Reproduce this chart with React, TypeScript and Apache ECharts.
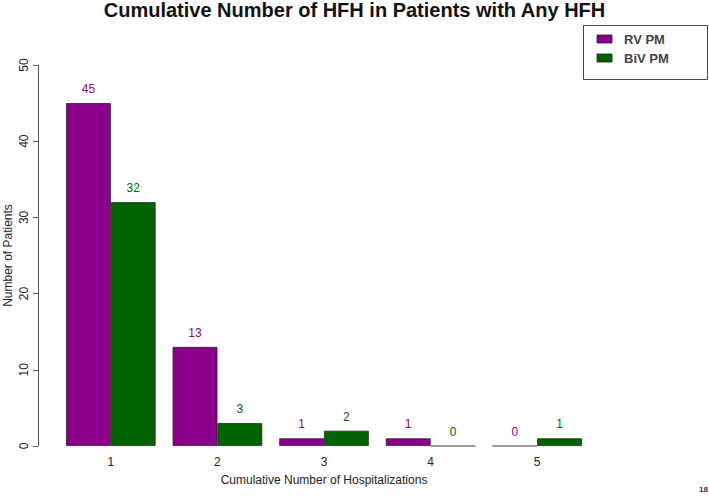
import React, { useEffect, useRef } from "react";
import * as echarts from "echarts";

const categories = ["1", "2", "3", "4", "5"];
const rvValues = [45, 13, 1, 1, 0];
const bivValues = [32, 3, 2, 0, 1];
const yTicks = [0, 10, 20, 30, 40, 50];

const PURPLE = "#8B008B";
const GREEN = "#006400";
const FONT = "'Liberation Sans', Arial, sans-serif";

export default function App() {
  const ref = useRef<HTMLDivElement>(null);
  useEffect(() => {
    if (!ref.current) return;
    const chart = echarts.init(ref.current, undefined, { renderer: "svg" });
    const mkSeries = (name: string, data: number[], color: string) => ({
      name,
      type: "bar",
      data: data.map((v) => ({
        value: v,
        itemStyle:
          v === 0
            ? { color: "transparent", borderColor: "#777", borderWidth: 1 }
            : { color, borderColor: "#222", borderWidth: 0.8 },
      })),
      barGap: "0%",
      barCategoryGap: "16%",
      label: {
        show: true,
        position: "top",
        distance: 8,
        color,
        fontFamily: FONT,
        fontSize: 12,
      },
    });
    chart.setOption({
      animation: false,
      textStyle: { fontFamily: FONT },
      title: {
        text: "Cumulative Number of HFH in Patients with Any HFH",
        left: "center",
        top: 0,
        padding: 0,
        textStyle: { fontFamily: FONT, fontSize: 20, fontWeight: "bold", color: "#111" },
      },
      legend: {
        show: false,
      },
      graphic: [
        {
          type: "rect",
          shape: { x: 583.5, y: 25.5, width: 124, height: 54 },
          style: { fill: "#fff", stroke: "#444", lineWidth: 1 },
        },
        {
          type: "rect",
          shape: { x: 597, y: 35, width: 15, height: 8 },
          style: { fill: PURPLE, stroke: "#222", lineWidth: 0.8 },
        },
        {
          type: "text",
          x: 624,
          y: 39,
          style: { text: "RV PM", fill: "#444", font: `bold 13px ${FONT}`, verticalAlign: "middle" },
        },
        {
          type: "rect",
          shape: { x: 597, y: 54, width: 15, height: 8 },
          style: { fill: GREEN, stroke: "#222", lineWidth: 0.8 },
        },
        {
          type: "text",
          x: 624,
          y: 58,
          style: { text: "BiV PM", fill: "#444", font: `bold 13px ${FONT}`, verticalAlign: "middle" },
        },
        {
          type: "text",
          x: 708,
          y: 493,
          style: { text: "18", fill: "#333", font: `bold 8px ${FONT}`, align: "right", verticalAlign: "bottom" },
        },
      ],
      grid: { left: 57.5, right: 118.5, top: 65, bottom: 50, containLabel: false, outerBoundsMode: "none" },
      xAxis: {
        type: "category",
        data: categories,
        axisLine: { show: false },
        axisTick: { show: false },
        axisLabel: { color: "#222", fontSize: 12, margin: 10, fontFamily: FONT },
        name: "Cumulative Number of Hospitalizations",
        nameLocation: "middle",
        nameGap: 28,
        nameTextStyle: { color: "#222", fontSize: 12, fontFamily: FONT },
      },
      yAxis: {
        type: "value",
        min: yTicks[0],
        max: yTicks[yTicks.length - 1],
        interval: 10,
        offset: 19.5,
        splitLine: { show: false },
        axisLine: { show: true, lineStyle: { color: "#555", width: 1 } },
        axisTick: { show: true, length: 5, lineStyle: { color: "#555" } },
        axisLabel: {
          color: "#222",
          fontSize: 12,
          rotate: 90,
          margin: 8,
          fontFamily: FONT,
        },
        name: "Number of Patients",
        nameLocation: "middle",
        nameGap: 24,
        nameMoveOverlap: false,
        nameRotate: 90,
        nameTextStyle: { color: "#222", fontSize: 12, fontFamily: FONT },
      },
      series: [mkSeries("RV PM", rvValues, PURPLE), mkSeries("BiV PM", bivValues, GREEN)],
    });
    return () => chart.dispose();
  }, []);
  return <div ref={ref} style={{ width: 709, height: 496, position: "absolute", left: 0, top: 0, background: "#fff" }} />;
}
